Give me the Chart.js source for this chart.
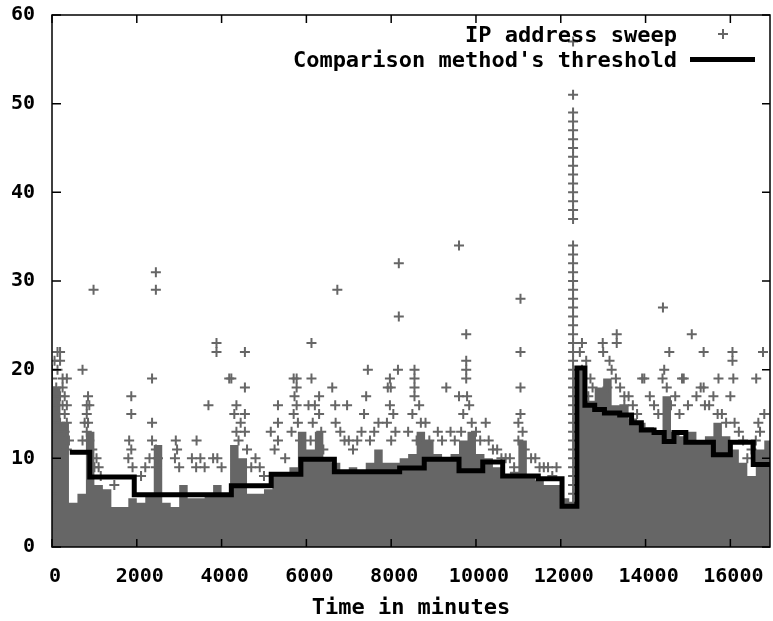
<!DOCTYPE html>
<html>
  <head>
    <meta charset="utf-8">
    <title>IP address sweep</title>
    <script src="https://cdn.jsdelivr.net/npm/chart.js@4.4.1/dist/chart.umd.min.js"></script>
    <style>
      html, body { margin: 0; padding: 0; background: #fff; overflow: hidden; }
      #wrap { width: 777px; height: 621px; }
    </style>
  </head>
  <body>
    <div id="wrap"><canvas id="chart"></canvas></div>
    <script>
      // axis ticks
      const xTicks = [0, 2000, 4000, 6000, 8000, 10000, 12000, 14000, 16000];
      const yTicks = [0, 10, 20, 30, 40, 50, 60];

      // dense body of the sweep series (top of the solid grey mass, per 200 minutes)
      const coreX = [0, 200, 400, 600, 800, 1000, 1200, 1400, 1600, 1800,
        2000, 2200, 2400, 2600, 2800, 3000, 3200, 3400, 3600, 3800,
        4000, 4200, 4400, 4600, 4800, 5000, 5200, 5400, 5600, 5800,
        6000, 6200, 6400, 6600, 6800, 7000, 7200, 7400, 7600, 7800,
        8000, 8200, 8400, 8600, 8800, 9000, 9200, 9400, 9600, 9800,
        10000, 10200, 10400, 10600, 10800, 11000, 11200, 11400, 11600, 11800,
        12000, 12200, 12400, 12600, 12800, 13000, 13200, 13400, 13600, 13800,
        14000, 14200, 14400, 14600, 14800, 15000, 15200, 15400, 15600, 15800,
        16000, 16200, 16400, 16600, 16800, 16935];
      const coreY = [18, 14, 5, 6, 13, 7, 6.5, 4.5, 4.5, 5.5,
        5, 6, 11.5, 5, 4.5, 7, 5.5, 5.5, 6, 7,
        6, 11.5, 10, 6, 6, 6.5, 8, 8, 9, 13,
        11, 13, 10, 9.5, 8.5, 9, 8.5, 9.5, 11, 9.5,
        9.5, 10, 10.5, 13, 12, 10.5, 10, 10.5, 12, 13,
        10.5, 10, 9, 8, 8.5, 12, 8, 7.5, 7, 7,
        5.5, 5, 20, 16.5, 18, 19, 16, 16, 14.5, 14,
        13.5, 13, 17, 13, 12.5, 13, 12, 12.5, 14, 12.5,
        11, 9.5, 8, 11, 12, 12];

      // individual sweep samples standing out of the dense body [minute, count]
      const sweepPoints = [
        [0, 1], [0, 2], [0, 3], [0, 4], [0, 5], [0, 6], [0, 7], [0, 8], [0, 9], [0, 10],
        [0, 11], [0, 12], [0, 13], [0, 14], [0, 15], [0, 16], [0, 17], [0, 18], [0, 19], [0, 20],
        [130, 22], [190, 22], [60, 21], [190, 21], [130, 20], [250, 19], [350, 19], [100, 18],
        [250, 18], [190, 17], [300, 17], [100, 16], [250, 16], [350, 16], [300, 15], [190, 14],
        [350, 14], [300, 13], [400, 12], [350, 11],
        [720, 20], [850, 17], [820, 16], [880, 16], [820, 15], [770, 14], [850, 14], [820, 13],
        [880, 12], [720, 12], [950, 11], [1050, 10], [1100, 9], [1150, 8], [1000, 9], [980, 29],
        [1470, 7], [1870, 17], [1870, 15], [1820, 12], [1870, 11], [1800, 10], [1900, 9],
        [2360, 19], [2360, 14], [2360, 12], [2450, 11], [2300, 10], [2500, 10], [2450, 9],
        [2450, 31], [2450, 29], [2200, 9], [2100, 8],
        [2920, 12], [2950, 11], [2900, 10], [3000, 9], [3410, 12], [3300, 10], [3500, 10],
        [3400, 9], [3690, 16], [3880, 23], [3880, 22], [3800, 10], [3900, 10], [3600, 9], [4000, 9],
        [4180, 19], [4230, 19], [4550, 22], [4550, 18], [4350, 16], [4550, 15], [4300, 15],
        [4450, 14], [4350, 13], [4550, 13], [4400, 12], [4600, 11], [4800, 10], [4700, 9],
        [4900, 9], [5000, 8],
        [5330, 16], [5330, 14], [5160, 13], [5330, 12], [5250, 11], [5500, 10], [5700, 19],
        [5770, 19], [5770, 18], [5720, 17], [5770, 16], [5700, 15], [5800, 14], [5650, 13], [5850, 12],
        [6120, 23], [6120, 19], [6300, 17], [6050, 16], [6200, 16], [6300, 15], [6150, 14],
        [6350, 13], [6100, 12], [6400, 11],
        [6610, 18], [6680, 16], [6960, 16], [6690, 14], [6800, 13], [6900, 12], [7000, 12],
        [7100, 11], [7200, 12], [7300, 13], [7360, 15], [7410, 17], [7450, 20], [7600, 13],
        [7500, 12], [7700, 14], [6730, 29],
        [7920, 18], [7970, 19], [7990, 18], [8160, 20], [7970, 16], [8050, 15], [7900, 14],
        [8100, 13], [8000, 12], [8180, 32], [8180, 26],
        [8550, 20], [8550, 19], [8550, 18], [8550, 17], [8660, 16], [8500, 15], [8810, 14],
        [8700, 14], [8400, 13], [8600, 12], [8900, 12],
        [9300, 18], [9100, 13], [9200, 12], [9400, 13], [9500, 12],
        [9600, 34], [9770, 24], [9770, 21], [9770, 20], [9770, 19], [9600, 17], [9790, 17],
        [9840, 16], [9700, 15], [9900, 14], [9650, 13], [10000, 13],
        [10230, 14], [10100, 12], [10300, 12], [10400, 11], [10500, 11], [10600, 10],
        [10700, 10], [10800, 10], [10900, 9],
        [11050, 28], [11050, 22], [11050, 18], [11050, 15], [11000, 14], [11100, 13],
        [11000, 12], [11150, 11], [11300, 10], [11400, 10], [11500, 9], [11600, 9], [11700, 9],
        [11800, 8], [11900, 9],
        [12290, 57], [12290, 51], [12290, 49], [12290, 48], [12290, 47], [12290, 46], [12290, 45],
        [12290, 44], [12290, 43], [12290, 42], [12290, 41], [12290, 40], [12290, 39], [12290, 38],
        [12290, 37], [12290, 34], [12290, 33], [12290, 32], [12290, 31], [12290, 30], [12290, 29],
        [12290, 28], [12290, 27], [12290, 26], [12290, 25], [12290, 24], [12290, 23], [12290, 22],
        [12290, 21], [12290, 20], [12290, 19], [12290, 18], [12290, 17], [12290, 16], [12290, 15],
        [12290, 14], [12290, 13], [12290, 12], [12290, 11], [12290, 10], [12290, 9], [12290, 8],
        [12290, 7], [12290, 6], [12290, 5],
        [12500, 23], [12450, 22], [12600, 21], [12500, 20], [12700, 19], [12750, 18], [12650, 17],
        [12990, 23], [13320, 24], [13320, 23], [13150, 21], [13000, 22], [13200, 20],
        [13300, 19], [13100, 18], [13400, 18], [13500, 17], [13600, 17], [13700, 16],
        [13800, 15], [13500, 16],
        [13920, 19], [13970, 19], [14100, 17], [14200, 16], [14300, 15], [14440, 20],
        [14400, 19], [14500, 18], [14410, 27], [14560, 22], [14600, 16], [14700, 17],
        [14800, 15], [14860, 19], [14900, 19], [15000, 16], [15090, 24], [15200, 17],
        [15300, 18], [15370, 22], [15370, 18], [15400, 16], [15500, 16], [15600, 17],
        [15720, 19], [15700, 15], [15800, 15], [15900, 14], [16050, 22], [16050, 21],
        [16070, 19], [16000, 17], [16100, 14], [16200, 13], [16300, 12], [16400, 10],
        [16500, 11], [16610, 19], [16660, 14], [16700, 13], [16770, 22], [16800, 15], [16600, 12]
      ];

      // comparison method's threshold, value held from each minute to the next
      const thresholdX = [420, 890, 1940, 4230, 5170, 5870, 6660, 8200, 8780, 9600,
        10160, 10630, 11470, 12030, 12380, 12570, 12800, 13030, 13390, 13670,
        13900, 14200, 14440, 14670, 14950, 15600, 16000, 16540, 16935];
      const thresholdY = [10.7, 7.9, 5.9, 6.9, 8.2, 9.9, 8.5, 8.9, 9.9, 8.6,
        9.6, 8.0, 7.7, 4.6, 20.2, 16.0, 15.5, 15.1, 14.9, 14.0,
        13.2, 12.9, 11.9, 12.9, 11.8, 10.4, 11.8, 9.3, 9.3];

      const grey = '#666666';
      const tickFont = { family: 'DejaVu Sans Mono', size: 20, weight: 'bold' };
      const labelFont = { family: 'DejaVu Sans Mono', size: 22, weight: 'bold' };

      // gnuplot style frame with inward ticks, plus the right aligned key
      const framePlugin = {
        id: 'frame',
        afterDraw(chart) {
          const { ctx, chartArea: a, scales: { x, y } } = chart;
          ctx.save();
          ctx.strokeStyle = '#000';
          ctx.lineWidth = 1.5;
          ctx.strokeRect(a.left, a.top, a.right - a.left, a.bottom - a.top);
          ctx.beginPath();
          xTicks.forEach(v => {
            const px = x.getPixelForValue(v);
            ctx.moveTo(px, a.bottom); ctx.lineTo(px, a.bottom - 8);
            ctx.moveTo(px, a.top); ctx.lineTo(px, a.top + 8);
          });
          yTicks.forEach(v => {
            const py = y.getPixelForValue(v);
            ctx.moveTo(a.left, py); ctx.lineTo(a.left + 9, py);
            ctx.moveTo(a.right, py); ctx.lineTo(a.right - 8, py);
          });
          ctx.stroke();

          ctx.font = 'bold 22px "DejaVu Sans Mono"';
          ctx.fillStyle = '#000';
          ctx.textAlign = 'right';
          ctx.textBaseline = 'middle';
          ctx.fillText(chart.data.datasets[1].label, 677, 36);
          ctx.fillText(chart.data.datasets[0].label, 677, 61);

          ctx.strokeStyle = grey;
          ctx.lineWidth = 2;
          ctx.beginPath();
          ctx.moveTo(718, 34); ctx.lineTo(728, 34);
          ctx.moveTo(723, 29); ctx.lineTo(723, 39);
          ctx.stroke();

          ctx.strokeStyle = '#000';
          ctx.lineWidth = 5;
          ctx.beginPath();
          ctx.moveTo(690, 59.5); ctx.lineTo(755, 59.5);
          ctx.stroke();
          ctx.restore();
        }
      };

      new Chart(document.getElementById('chart'), {
        type: 'scatter',
        data: {
          datasets: [
            {
              label: "Comparison method's threshold",
              type: 'line',
              data: thresholdX.map((v, i) => ({ x: v, y: thresholdY[i] })),
              stepped: true,
              borderColor: '#000',
              borderWidth: 5,
              borderJoinStyle: 'miter',
              pointRadius: 0,
              fill: false
            },
            {
              label: 'IP address sweep',
              data: sweepPoints.map(p => ({ x: p[0], y: p[1] })),
              pointStyle: 'cross',
              pointRadius: 5,
              pointHoverRadius: 5,
              borderColor: grey,
              backgroundColor: grey,
              borderWidth: 2,
              clip: 0
            },
            {
              label: 'dense',
              type: 'line',
              data: coreX.map((v, i) => ({ x: v, y: coreY[i] })),
              stepped: true,
              fill: 'origin',
              backgroundColor: grey,
              borderWidth: 0,
              pointRadius: 0
            }
          ]
        },
        options: {
          responsive: true,
          maintainAspectRatio: false,
          animation: false,
          events: [],
          layout: { padding: { top: 15, right: 0, left: 0, bottom: 0 } },
          plugins: { legend: { display: false }, tooltip: { enabled: false } },
          scales: {
            x: {
              type: 'linear', min: 0, max: 16935,
              afterBuildTicks: s => { s.ticks = xTicks.map(v => ({ value: v })); },
              afterFit: s => { s.height = 74; s.paddingLeft = 0; s.paddingRight = 0; },
              grid: { display: false, drawTicks: false },
              border: { display: false },
              ticks: { font: tickFont, color: '#000', padding: 18, labelOffset: 3, maxRotation: 0, autoSkip: false, callback: v => String(v) },
              title: { display: true, text: 'Time in minutes', font: labelFont, color: '#000', padding: { top: 0, bottom: 0 } }
            },
            y: {
              min: 0, max: 60,
              afterBuildTicks: s => { s.ticks = yTicks.map(v => ({ value: v })); },
              afterFit: s => { s.width = 52; s.paddingTop = 0; s.paddingBottom = 0; },
              grid: { display: false, drawTicks: false },
              border: { display: false },
              ticks: { font: tickFont, color: '#000', padding: 17, autoSkip: false, callback: v => String(v) }
            }
          }
        },
        plugins: [framePlugin]
      });
    </script>
  </body>
</html>
